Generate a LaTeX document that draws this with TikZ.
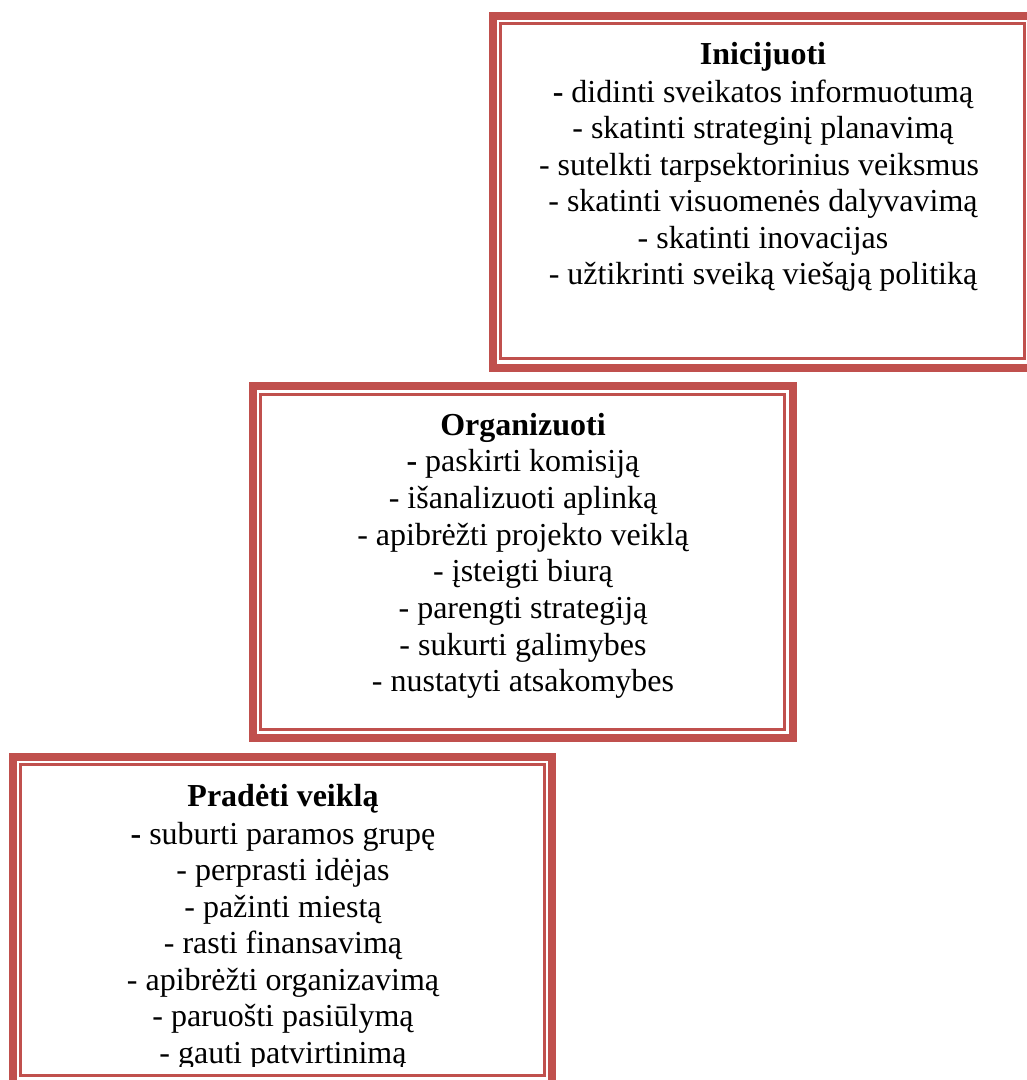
\documentclass[tikz,border=0pt]{standalone}
\usepackage{fontspec}
\setmainfont{Liberation Serif}
\definecolor{boxred}{HTML}{C0504D}
\tikzset{
  outerline/.style={draw=boxred, line width=8pt},
  innerline/.style={draw=boxred, line width=3pt},
  txt/.style={anchor=base, inner sep=0pt, font=\fontsize{32}{37}\selectfont},
  ttl/.style={txt, font=\fontsize{32}{37}\selectfont\bfseries},
}
\begin{document}
\begin{tikzpicture}[x=1pt, y=-1pt]
\useasboundingbox (0,0) rectangle (1027,1080);
\clip (0,0) rectangle (1027,1080);
\fill[white] (0,0) rectangle (1027,1080);
% Box 1
\draw[outerline] (493,16) rectangle (1032.5,367.5);
\draw[innerline] (500.5,23.5) rectangle (1024.5,358.5);
\node[ttl] (t1) at (763,64) {Inicijuoti};
\node[txt] (a1) at (763,102) {\textbf{-} didinti sveikatos informuotumą};
\node[txt] (a2) at (763,138.5) {- skatinti strateginį planavimą};
\node[txt] (a3) at (759,175) {- sutelkti tarpsektorinius veiksmus};
\node[txt] (a4) at (763,211.5) {- skatinti visuomenės dalyvavimą};
\node[txt] (a5) at (763,248) {- skatinti inovacijas};
\node[txt] (a6) at (763,284.5) {- užtikrinti sveiką viešąją politiką};
% Box 2
\draw[outerline] (253,386) rectangle (792.5,738);
\draw[innerline] (260.7,394.3) rectangle (784.5,729.5);
\node[ttl] (t2) at (523,435) {Organizuoti};
\node[txt] (b1) at (523,471.7) {\textbf{-} paskirti komisiją};
\node[txt] (b2) at (523,508.3) {- išanalizuoti aplinką};
\node[txt] (b3) at (523,545) {- apibrėžti projekto veiklą};
\node[txt] (b4) at (523,581.7) {- įsteigti biurą};
\node[txt] (b5) at (523,618.3) {- parengti strategiją};
\node[txt] (b6) at (523,655) {- sukurti galimybes};
\node[txt] (b7) at (523,691.7) {- nustatyti atsakomybes};
% Box 3
\draw[outerline] (13,757) rectangle (552,1083.5);
\draw[innerline] (20.7,764.5) rectangle (544.5,1075.5);
\node[ttl] (t3) at (283,806) {Pradėti veiklą};
\node[txt] (c1) at (283,844) {\textbf{-} suburti paramos grupę};
\node[txt] (c2) at (283,880.5) {- perprasti idėjas};
\node[txt] (c3) at (283,917) {- pažinti miestą};
\node[txt] (c4) at (283,953.5) {- rasti finansavimą};
\node[txt] (c5) at (283,990) {- apibrėžti organizavimą};
\node[txt] (c6) at (283,1026.5) {- paruošti pasiūlymą};
\begin{scope}
\clip (22,1036) rectangle (543,1066);
\node[txt] (c7) at (283,1063) {- gauti patvirtinimą};
\end{scope}
\end{tikzpicture}
\end{document}
